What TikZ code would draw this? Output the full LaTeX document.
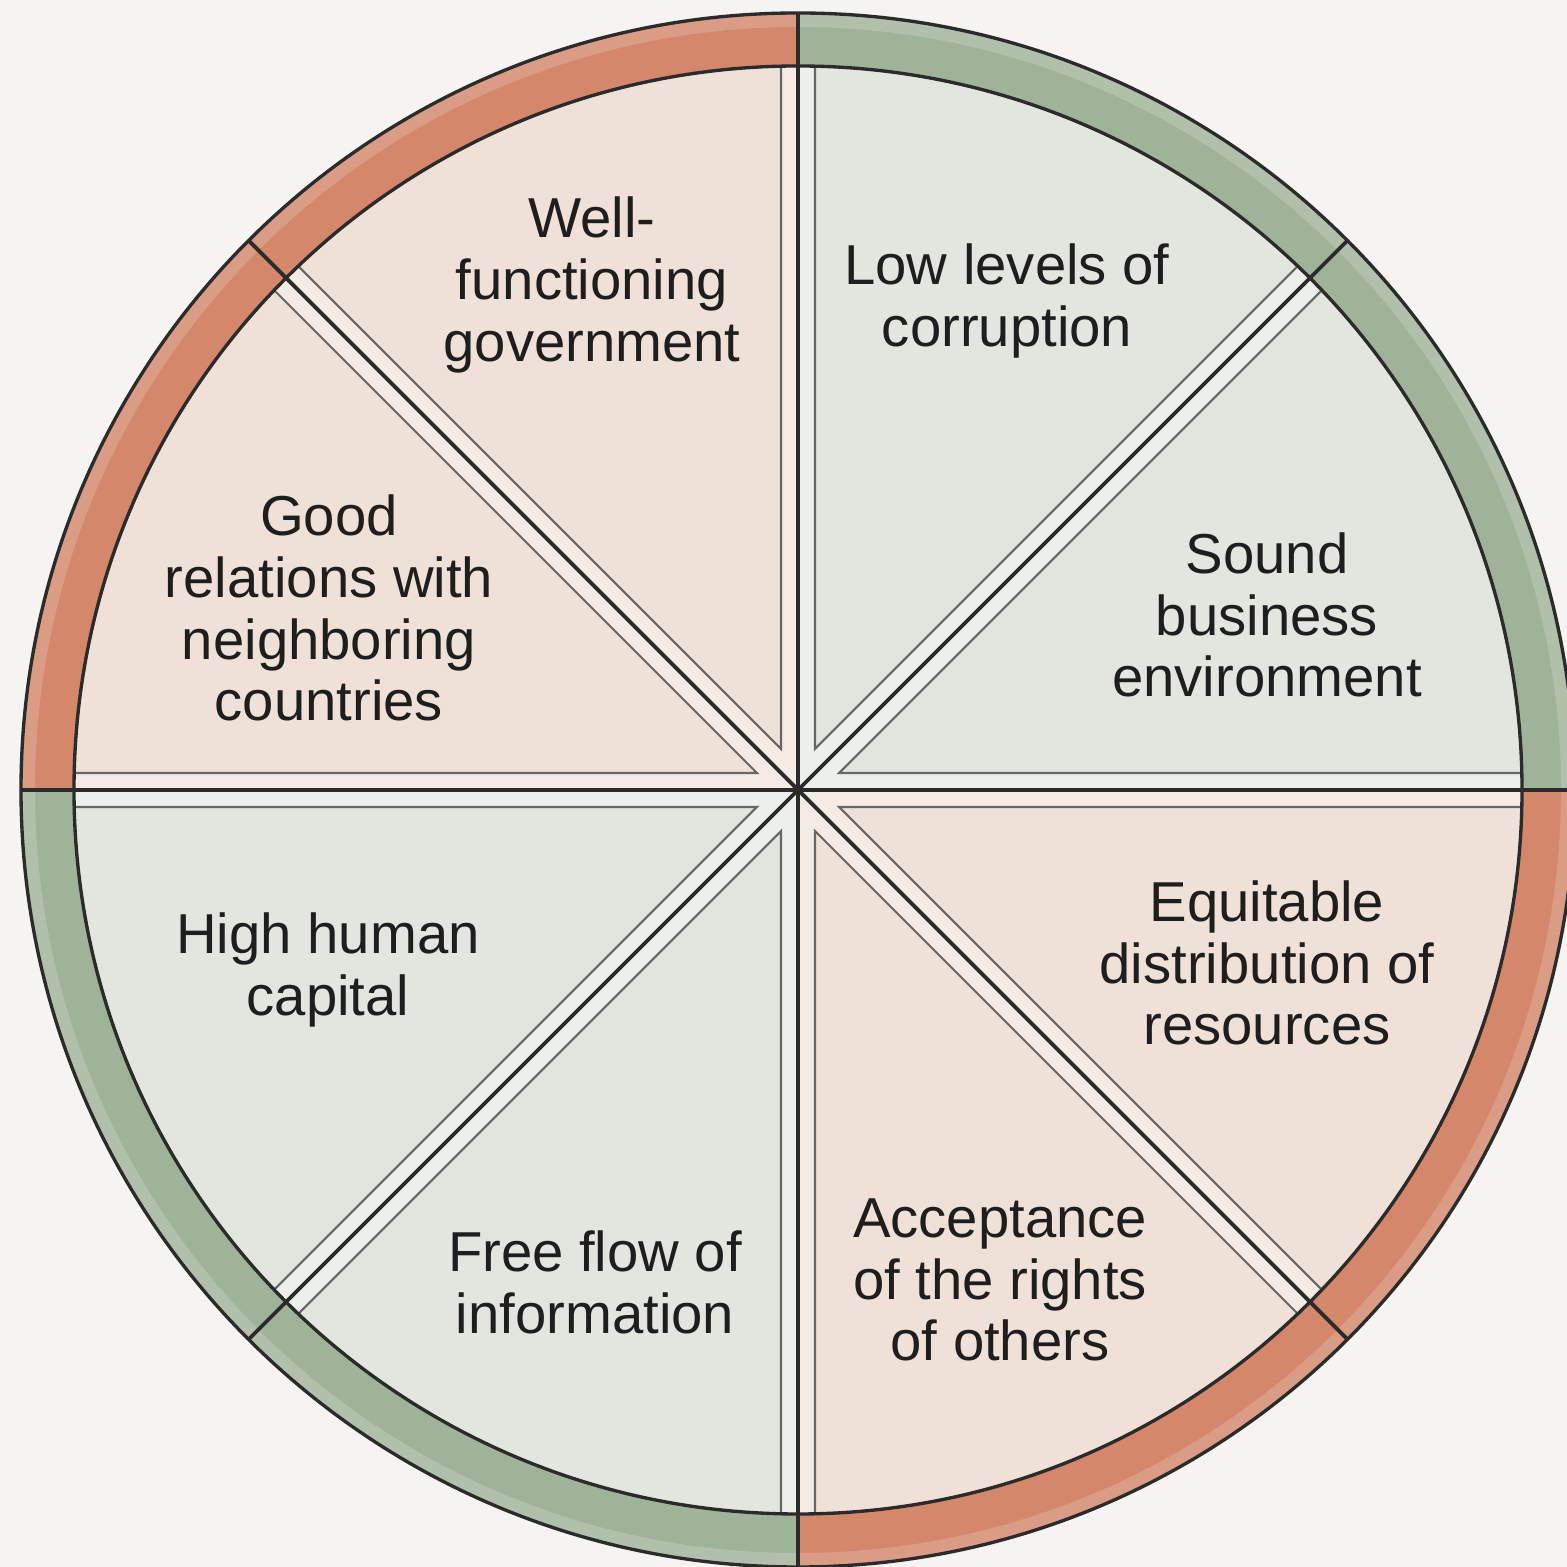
\documentclass[tikz,border=0pt]{standalone}
\usepackage{fontspec}
\setmainfont{Liberation Sans}
\usetikzlibrary{calc}
\definecolor{bg}{HTML}{F5F4F0}
\definecolor{ringpink}{HTML}{D4876B}
\definecolor{ringgreen}{HTML}{9FB399}
\definecolor{wedgepink}{HTML}{F0E1D8}
\definecolor{bandpink}{HTML}{F5EBE5}
\definecolor{wedgegreen}{HTML}{E2E6DE}
\definecolor{bandgreen}{HTML}{EDF0EA}
\definecolor{darkline}{HTML}{2B2B2B}
\definecolor{thinline}{HTML}{666666}
\definecolor{txt}{HTML}{1E1E1E}
\begin{document}
\begin{tikzpicture}[x=0.01cm,y=0.01cm,
  lbl/.style={align=center, font=\fontsize{16}{17.6}\selectfont, text=txt, inner sep=0pt},
  divider/.style={draw=darkline, line width=1.1pt},
  rim/.style={draw=darkline, line width=0.95pt},
  wedgeline/.style={draw=thinline, line width=0.6pt}]
\useasboundingbox (0,0) rectangle (1567,1567);
\clip (0,0) rectangle (1567,1567);
\fill[bg] (0,0) rectangle (1567,1567);
\coordinate (c) at (798,777);
\def\Ro{777}
\def\Ri{724}
% outer ring quadrants
\foreach \a/\col in {0/ringgreen,90/ringpink,180/ringgreen,270/ringpink}
  \fill[\col] (c) -- ++(\a:\Ro) arc[start angle=\a, delta angle=90, radius=\Ro] -- cycle;
% highlight strip on the ring
\fill[white, opacity=0.18, even odd rule] (c) circle[radius=\Ro] (c) circle[radius=763];
% inner disk bands
\foreach \a/\col in {0/bandgreen,90/bandpink,180/bandgreen,270/bandpink}
  \fill[\col] (c) -- ++(\a:\Ri) arc[start angle=\a, delta angle=90, radius=\Ri] -- cycle;
% inset wedges
\foreach \a/\col in {0/wedgegreen,45/wedgegreen,90/wedgepink,135/wedgepink,180/wedgegreen,225/wedgegreen,270/wedgepink,315/wedgepink}{
  \pgfmathsetmacro\ma{\a+22.5}
  \pgfmathsetmacro\sa{\a+1.345}
  \pgfmathsetmacro\ea{\a+45-1.345}
  \filldraw[fill=\col, wedgeline] ($(c)+(\ma:44.4)$) -- ($(c)+(\sa:\Ri)$)
     arc[start angle=\sa, end angle=\ea, radius=\Ri] -- cycle;
}
% dividers
\foreach \a in {0,45,90,135}
  \draw[divider] ($(c)+(\a:\Ro)$) -- ($(c)+(\a+180:\Ro)$);
% circles
\draw[rim] (c) circle[radius=\Ro];
\draw[rim] (c) circle[radius=\Ri];
% labels
\node[lbl] (gov) at (592,1282) {Well-\\functioning\\government};
\node[lbl] (corr) at (1007,1266) {Low levels of\\corruption};
\node[lbl] (rel) at (329,959) {Good\\relations with\\neighboring\\countries};
\node[lbl] (bus) at (1267,952) {Sound\\business\\environment};
\node[lbl] (hum) at (328,597) {High human\\capital};
\node[lbl] (info) at (595,285) {Free flow of\\information};
\node[lbl] (equ) at (1267,604) {Equitable\\distribution of\\resources};
\node[lbl] (acc) at (1000,287) {Acceptance\\of the rights\\of others};
\end{tikzpicture}
\end{document}
